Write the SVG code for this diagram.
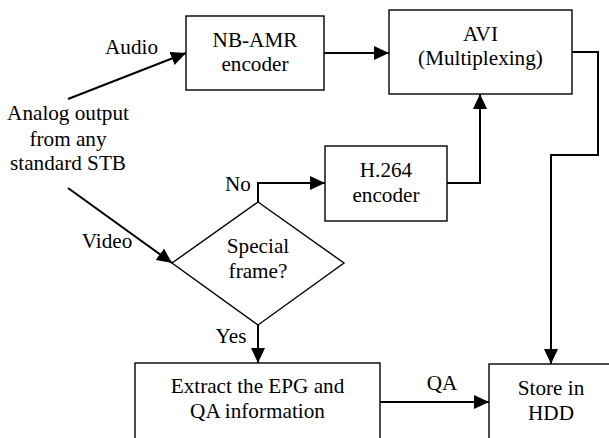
<svg xmlns="http://www.w3.org/2000/svg" width="609" height="438" viewBox="0 0 609 438">
<defs>
<marker id="arr" markerUnits="userSpaceOnUse" viewBox="0 0 15 14" markerWidth="15" markerHeight="14" refX="15" refY="7" orient="auto">
<path d="M0,0 L15,7 L0,14 z" fill="#000"/>
</marker>
</defs>
<style>
text{font-family:'Liberation Serif','Times New Roman',serif;font-size:21.2px;fill:#000;text-anchor:middle}
.box{fill:#fff;stroke:#000;stroke-width:1.4}
.con{fill:none;stroke:#000;stroke-width:2;marker-end:url(#arr)}
</style>
<rect width="609" height="438" fill="#fff"/>
<g id="connectors">
<line class="con" x1="68" y1="99" x2="186" y2="53"/>
<line class="con" x1="68" y1="188" x2="172" y2="263"/>
<line class="con" x1="324" y1="53" x2="389" y2="53"/>
<path class="con" d="M258,202 V183 H325"/>
<path class="con" d="M447,183 H480 V94"/>
<path class="con" d="M572,52 H598 V155 H551 V364"/>
<path class="con" d="M258,325 V363"/>
<path class="con" d="M380,402 H489"/>
</g>
<g id="source">
<text x="68" y="120">Analog output</text>
<text x="68" y="146">from any</text>
<text x="68" y="170">standard STB</text>
</g>
<g id="labels">
<text x="131.5" y="54">Audio</text>
<text x="107" y="248">Video</text>
<text x="238" y="191">No</text>
<text x="231" y="343">Yes</text>
<text x="442" y="390">QA</text>
</g>
<g id="nbamr">
<rect class="box" x="186" y="16" width="138" height="74"/>
<text x="255" y="47">NB-AMR</text>
<text x="255" y="71">encoder</text>
</g>
<g id="avi">
<rect class="box" x="389" y="10" width="183" height="84"/>
<text x="480.5" y="41">AVI</text>
<text x="480.5" y="65">(Multiplexing)</text>
</g>
<g id="h264">
<rect class="box" x="325" y="146" width="122" height="75"/>
<text x="386" y="177">H.264</text>
<text x="386" y="202">encoder</text>
</g>
<g id="decision">
<polygon class="box" points="258,202 344,263 258,325 172,263"/>
<text x="258" y="253">Special</text>
<text x="258" y="278">frame?</text>
</g>
<g id="extract">
<rect class="box" x="135" y="363" width="245" height="100"/>
<text x="257.5" y="393">Extract the EPG and</text>
<text x="257.5" y="418">QA information</text>
</g>
<g id="store">
<rect class="box" x="489" y="364" width="150" height="100"/>
<text x="551" y="395">Store in</text>
<text x="551" y="420">HDD</text>
</g>
</svg>
